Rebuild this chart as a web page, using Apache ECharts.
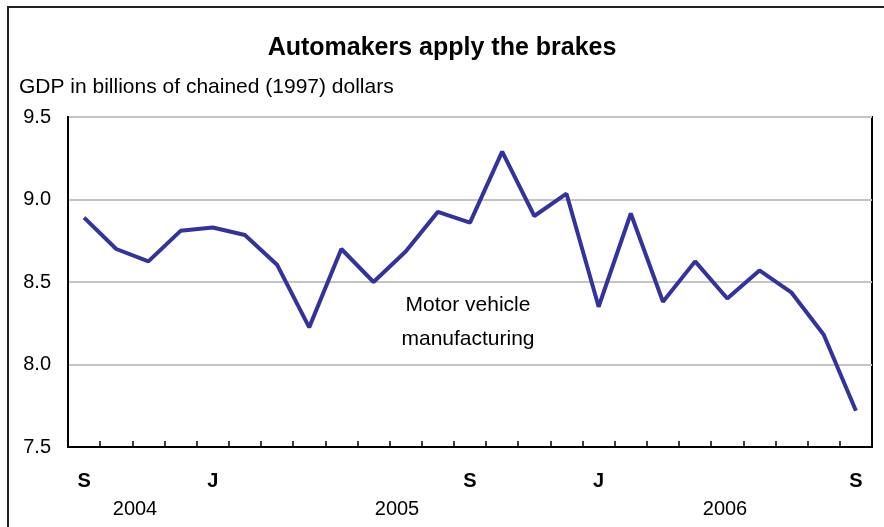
<!DOCTYPE html>
<html>
<head>
<meta charset="utf-8">
<script src="https://cdn.jsdelivr.net/npm/echarts@6/dist/echarts.min.js"></script>
<style>
html,body{margin:0;padding:0;background:#fff;}
#chart{width:884px;height:527px;}
</style>
</head>
<body>
<div id="chart"></div>
<script>
const months = ['Sep 2004','Oct 2004','Nov 2004','Dec 2004','Jan 2005','Feb 2005','Mar 2005','Apr 2005','May 2005','Jun 2005','Jul 2005','Aug 2005','Sep 2005','Oct 2005','Nov 2005','Dec 2005','Jan 2006','Feb 2006','Mar 2006','Apr 2006','May 2006','Jun 2006','Jul 2006','Aug 2006','Sep 2006'];
const tickLabels = ['S','','','','J','','','','','','','','S','','','','J','','','','','','','','S'];
const gdp = [8.89,8.70,8.625,8.81,8.83,8.785,8.605,8.225,8.70,8.50,8.685,8.925,8.86,9.29,8.90,9.035,8.35,8.915,8.38,8.625,8.40,8.57,8.435,8.18,7.72];
const yearLabels = ['2004','2005','2006'];
const FONT = '"Liberation Sans", Arial, sans-serif';

const chart = echarts.init(document.getElementById('chart'), null, {renderer:'canvas'});
chart.setOption({
  animation:false,
  backgroundColor:'#fff',
  title:{
    text:'Automakers apply the brakes',
    left:'center', top:31,
    textStyle:{fontFamily:FONT,fontWeight:'bold',fontSize:25,color:'#000'}
  },
  grid:{left:68,right:12,top:117,bottom:80,show:true,borderColor:'#000',borderWidth:2,backgroundColor:'transparent'},
  xAxis:{
    type:'category',
    data:months,
    boundaryGap:true,
    axisLine:{show:true,lineStyle:{color:'#000',width:2}},
    axisTick:{show:true,inside:true,length:6,interval:0,alignWithLabel:false,lineStyle:{color:'#000',width:1.5}},
    axisLabel:{interval:0,margin:24,fontFamily:FONT,fontWeight:'bold',fontSize:20,color:'#000',
      formatter:(v,i)=>tickLabels[i]},
    splitLine:{show:false}
  },
  yAxis:{
    type:'value',min:7.5,max:9.5,interval:0.5,
    axisLine:{show:true,lineStyle:{color:'#000',width:2}},
    axisTick:{show:false},
    axisLabel:{margin:17,fontFamily:FONT,fontSize:20,color:'#000',formatter:v=>v.toFixed(1)},
    splitLine:{show:true,lineStyle:{color:'#c4c4c4',width:2}}
  },
  series:[{
    type:'line',
    data:gdp,
    symbol:'none',
    lineStyle:{color:'#333399',width:4},
    z:3
  }],
  graphic:[
    {type:'rect',shape:{x:8,y:7,width:900,height:560},style:{fill:'none',stroke:'#222',lineWidth:2},silent:true},
    {type:'text',left:19,top:77,style:{text:'GDP in billions of chained (1997) dollars',font:'21px '+FONT,fill:'#000'}},
    {type:'text',x:468,y:322,style:{text:'Motor vehicle\nmanufacturing',font:'21px '+FONT,fill:'#000',align:'center',verticalAlign:'middle',lineHeight:34}},
    {type:'text',x:135,y:509,style:{text:yearLabels[0],font:'20px '+FONT,fill:'#000',align:'center',verticalAlign:'middle'}},
    {type:'text',x:397,y:509,style:{text:yearLabels[1],font:'20px '+FONT,fill:'#000',align:'center',verticalAlign:'middle'}},
    {type:'text',x:725,y:509,style:{text:yearLabels[2],font:'20px '+FONT,fill:'#000',align:'center',verticalAlign:'middle'}}
  ]
});
</script>
</body>
</html>
